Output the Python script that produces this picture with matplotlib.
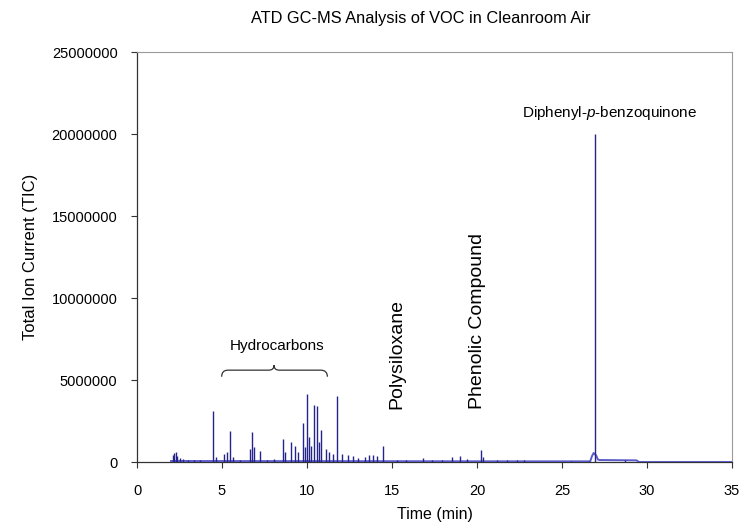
import matplotlib
matplotlib.use("Agg")
import matplotlib.pyplot as plt
from matplotlib.path import Path
from matplotlib.patches import PathPatch

plt.rcParams['font.family'] = ['Liberation Sans', 'DejaVu Sans']
plt.rcParams['mathtext.fontset'] = 'custom'
plt.rcParams['mathtext.it'] = 'Liberation Sans:italic'
plt.rcParams['mathtext.rm'] = 'Liberation Sans'

# chromatogram peaks (time in min, TIC counts)
peak_time = [2.12, 2.20, 2.27, 2.37, 2.52, 2.72, 3.02, 3.33, 3.73,
             4.46, 4.64, 5.14, 5.27, 5.47, 5.64, 6.05, 6.65, 6.77, 6.90,
             7.26, 7.66, 8.06, 8.59, 8.72, 9.04, 9.29, 9.48, 9.78, 9.90,
             10.00, 10.13, 10.26, 10.41, 10.57, 10.70, 10.83, 11.09, 11.29,
             11.54, 11.78, 12.05, 12.40, 12.70, 13.00, 13.41, 13.66, 13.86,
             14.11, 14.45, 15.32, 15.83, 16.80, 17.34, 17.94, 18.50, 18.99,
             19.41, 20.21, 20.36, 21.17, 21.77, 22.38, 22.78, 25.55, 26.61,
             26.94, 28.73]
peak_tic = [400000, 550000, 600000, 350000, 250000, 200000, 150000, 120000, 100000,
            3100000, 300000, 500000, 600000, 1900000, 300000, 150000, 800000, 1800000, 900000,
            650000, 150000, 200000, 1400000, 600000, 1250000, 1000000, 600000, 2400000, 900000,
            4150000, 1500000, 1000000, 3500000, 3400000, 1200000, 1950000, 800000, 600000,
            500000, 4000000, 500000, 400000, 350000, 250000, 300000, 450000, 400000,
            350000, 1000000, 100000, 100000, 270000, 100000, 100000, 300000, 350000,
            200000, 750000, 300000, 100000, 100000, 100000, 120000, 80000, 80000,
            20000000, 150000]

# baseline of the trace, incl. the hump under the big peak
base_time = [2.0, 23.0, 26.66, 26.76, 26.86, 27.01, 27.11, 27.22, 29.38, 29.53, 35.0]
base_tic = [60000, 40000, 40000, 350000, 550000, 400000, 150000, 120000, 100000, 0, 0]

fig = plt.figure(figsize=(7.42, 5.26), dpi=100)
ax = fig.add_axes([137 / 742, 1 - 462 / 526, 595 / 742, 410 / 526])

ax.plot(base_time, base_tic, color='#5a5ac8', lw=1.4, zorder=3)
ax.vlines(peak_time, 0, peak_tic, color='#24248c', lw=1.0, zorder=4)

ax.set_xlim(0, 35)
ax.set_ylim(0, 25000000)
ax.set_xticks(range(0, 36, 5))
ax.set_yticks(range(0, 25000001, 5000000))
ax.set_yticklabels([str(v) for v in range(0, 25000001, 5000000)])
ax.tick_params(axis='both', direction='out', length=4, width=0.8, labelsize=10.5, color='#333333')
ax.tick_params(axis='y', pad=10)
ax.tick_params(axis='x', pad=12)

for s in ['left', 'bottom']:
    ax.spines[s].set_color('#333333')
    ax.spines[s].set_linewidth(0.9)
for s in ['top', 'right']:
    ax.spines[s].set_color('#9a9a9a')
    ax.spines[s].set_linewidth(0.8)

ax.set_xlabel('Time (min)', fontsize=11.5, labelpad=6)
ax.set_ylabel('Total Ion Current (TIC)', fontsize=12, labelpad=10)
fig.text(421 / 742, 1 - 18 / 526, 'ATD GC-MS Analysis of VOC in Cleanroom Air',
         ha='center', va='center', fontsize=11.8)

# annotations
ax.text(8.24, 7100000, 'Hydrocarbons', ha='center', va='center', fontsize=11)
brace = Path([(4.98, 5200000), (4.98, 5600000), (5.35, 5600000),
              (7.75, 5600000), (8.06, 5600000), (8.06, 5900000),
              (8.06, 5600000), (8.37, 5600000), (10.8, 5600000),
              (11.2, 5600000), (11.2, 5200000)],
             [Path.MOVETO, Path.CURVE3, Path.CURVE3,
              Path.LINETO, Path.CURVE3, Path.CURVE3,
              Path.CURVE3, Path.CURVE3, Path.LINETO,
              Path.CURVE3, Path.CURVE3])
ax.add_patch(PathPatch(brace, fill=False, color='#333333', lw=0.9))

ax.text(15.3, 3250000, 'Polysiloxane', rotation=90, ha='center', va='bottom', fontsize=14)
ax.text(20.0, 3250000, 'Phenolic Compound', rotation=90, ha='center', va='bottom', fontsize=14)
ax.text(27.8, 21300000, r'Diphenyl-$p$-benzoquinone', ha='center', va='center', fontsize=11)

fig.savefig('out.png', dpi=100)
